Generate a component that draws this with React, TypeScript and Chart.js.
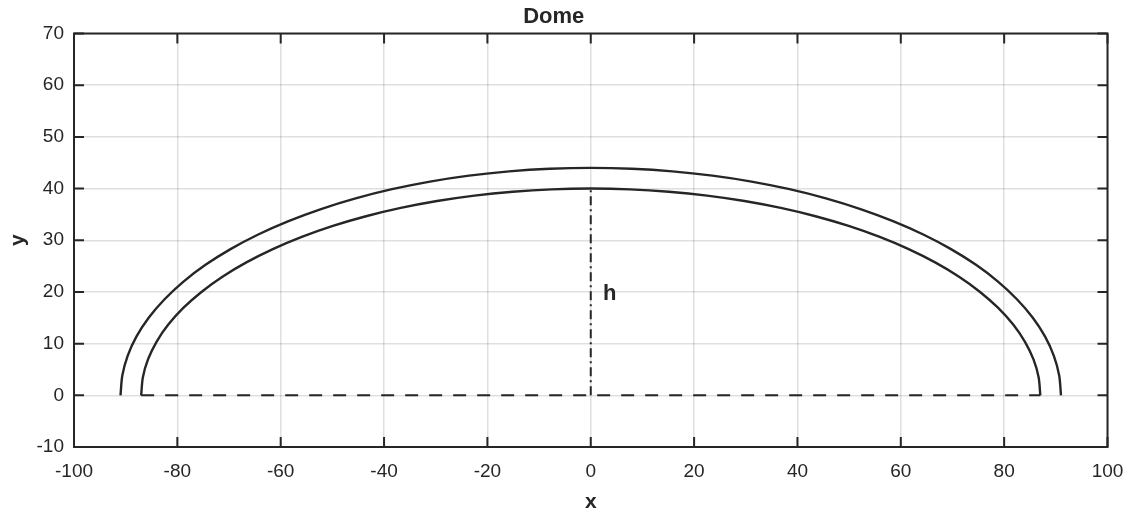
import React, { useEffect, useRef } from "react";
import { Chart, registerables } from "chart.js";

Chart.register(...registerables);

// Outer dome curve
const outerX = [-91, -90.65, -89.62, -87.9, -85.51, -82.47, -78.81, -74.55, -69.71, -64.35, -58.49, -52.2, -45.5, -38.46, -31.12, -23.55, -15.8, -7.94, 0, 7.94, 15.8, 23.55, 31.12, 38.46, 45.5, 52.2, 58.49, 64.35, 69.71, 74.55, 78.81, 82.47, 85.51, 87.9, 89.62, 90.65, 91];
const outerY = [0, 3.84, 7.64, 11.39, 15.05, 18.59, 22, 25.24, 28.28, 31.11, 33.7, 36.04, 38.1, 39.88, 41.35, 42.5, 43.33, 43.83, 44, 43.83, 43.33, 42.5, 41.35, 39.88, 38.1, 36.04, 33.7, 31.11, 28.28, 25.24, 22, 18.59, 15.05, 11.39, 7.64, 3.84, 0];

// Inner dome curve
const innerX = [-87, -86.67, -85.68, -84.03, -81.75, -78.85, -75.34, -71.27, -66.64, -61.52, -55.92, -49.9, -43.5, -36.77, -29.75, -22.52, -15.1, -7.59, 0, 7.59, 15.1, 22.52, 29.75, 36.77, 43.5, 49.9, 55.92, 61.52, 66.64, 71.27, 75.34, 78.85, 81.75, 84.03, 85.68, 86.67, 87];
const innerY = [0, 3.49, 6.94, 10.35, 13.68, 16.9, 20, 22.94, 25.71, 28.28, 30.64, 32.77, 34.64, 36.25, 37.59, 38.64, 39.39, 39.85, 40, 39.85, 39.39, 38.64, 37.59, 36.25, 34.64, 32.77, 30.64, 28.28, 25.71, 22.94, 20, 16.9, 13.68, 10.35, 6.94, 3.49, 0];

// Base (dashed) and height (dash-dot) lines
const baseX = [-87, 87];
const baseY = [0, 0];
const heightX = [0, 0];
const heightY = [0, 40];

// Text annotation
const labelText = ["h"];
const labelX = [2];
const labelY = [20];

// Axes
const xRange = [-100, 100];
const xStep = 20;
const yRange = [-10, 70];
const yStep = 10;

const INK = "#262626";
const FONT = "'Liberation Sans', Arial, Helvetica, sans-serif";

const toPts = (xs: number[], ys: number[]) => xs.map((x, i) => ({ x, y: ys[i] }));

const framePlugin = {
  id: "frame",
  afterDatasetsDraw(chart: any) {
    const { ctx, chartArea, scales } = chart;
    const { left, right, top, bottom } = chartArea;
    const xs = scales.x;
    const ys = scales.y;
    ctx.save();
    ctx.strokeStyle = INK;
    ctx.lineWidth = 2;
    ctx.strokeRect(left, top, right - left, bottom - top);
    const tl = 10;
    ctx.beginPath();
    xs.ticks.forEach((t: any) => {
      const px = xs.getPixelForValue(t.value);
      ctx.moveTo(px, bottom);
      ctx.lineTo(px, bottom - tl);
      ctx.moveTo(px, top);
      ctx.lineTo(px, top + tl);
    });
    ys.ticks.forEach((t: any) => {
      const py = ys.getPixelForValue(t.value);
      ctx.moveTo(left, py);
      ctx.lineTo(left + tl, py);
      ctx.moveTo(right, py);
      ctx.lineTo(right - tl, py);
    });
    ctx.stroke();
    ctx.fillStyle = INK;
    ctx.font = `bold 22px ${FONT}`;
    ctx.textAlign = "left";
    ctx.textBaseline = "middle";
    labelText.forEach((t, i) => {
      ctx.fillText(t, xs.getPixelForValue(labelX[i]) + 2, ys.getPixelForValue(labelY[i]) + 2);
    });
    ctx.restore();
  },
};

export default function App() {
  const ref = useRef<HTMLCanvasElement | null>(null);

  useEffect(() => {
    document.body.style.margin = "0";
    if (!ref.current) return;
    const lineDs = (data: any[], extra: any = {}) => ({
      data,
      showLine: true,
      borderColor: INK,
      borderWidth: 2.4,
      pointRadius: 0,
      fill: false,
      ...extra,
    });
    const chart = new Chart(ref.current, {
      type: "scatter",
      data: {
        datasets: [
          lineDs(toPts(outerX, outerY), { tension: 0.3 }),
          lineDs(toPts(innerX, innerY), { tension: 0.3 }),
          lineDs(toPts(baseX, baseY), { borderDash: [13, 11], borderWidth: 2 }),
          lineDs(toPts(heightX, heightY), { borderDash: [9, 4, 2, 4], borderWidth: 2 }),
        ],
      },
      options: {
        animation: false,
        responsive: false,
        layout: { padding: { right: 24.5 } },
        plugins: {
          legend: { display: false },
          tooltip: { enabled: false },
          title: {
            display: true,
            text: "Dome",
            color: INK,
            font: { family: FONT, size: 22, weight: "bold", lineHeight: 1 },
            padding: { top: 6, bottom: 5.5 },
          },
        },
        scales: {
          x: {
            type: "linear",
            min: xRange[0],
            max: xRange[1],
            ticks: { stepSize: xStep, color: INK, font: { family: FONT, size: 19 }, padding: 13, maxRotation: 0 },
            grid: { color: "rgba(38,38,38,0.15)", lineWidth: 1.5, drawTicks: false },
            border: { display: false },
            title: {
              display: true,
              text: "x",
              color: INK,
              font: { family: FONT, size: 21, weight: "bold", lineHeight: 1 },
              padding: { top: 0, bottom: 0 },
            },
            afterFit(s: any) {
              s.height = 66;
              s.paddingLeft = 0;
              s.paddingRight = 0;
            },
          },
          y: {
            type: "linear",
            min: yRange[0],
            max: yRange[1],
            ticks: { stepSize: yStep, color: INK, font: { family: FONT, size: 19 }, padding: 10 },
            grid: { color: "rgba(38,38,38,0.15)", lineWidth: 1.5, drawTicks: false },
            border: { display: false },
            title: {
              display: true,
              text: "y",
              color: INK,
              font: { family: FONT, size: 21, weight: "bold", lineHeight: 1 },
              padding: { top: 8, bottom: 0 },
            },
            afterFit(s: any) {
              s.width = 74;
              s.paddingTop = 0;
              s.paddingBottom = 0;
            },
          },
        },
      },
      plugins: [framePlugin],
    } as any);
    return () => chart.destroy();
  }, []);

  return (
    <div style={{ width: 1132, height: 513 }}>
      <canvas ref={ref} width={1132} height={513} style={{ display: "block" }} />
    </div>
  );
}
